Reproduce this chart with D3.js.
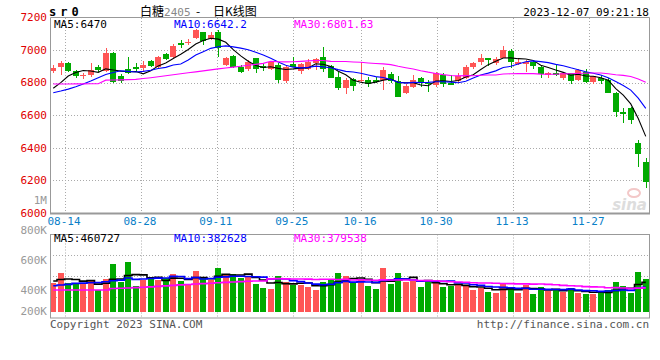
<!DOCTYPE html>
<html>
<head>
<meta charset="UTF-8">
<title>sr0 日K线图</title>
<script src="https://cdn.jsdelivr.net/npm/d3@7"></script>
<style>
  body { margin: 0; background: #fff; }
  text { font-family: "DejaVu Sans Mono", "Liberation Mono", monospace; font-size: 10px; }
</style>
</head>
<body>
<svg id="chart" width="660" height="360"></svg>
<script>
// daily bars, 2023-08-10 .. 2023-12-07 (80 trading days)
var opens  = [6873,6898,6918,6873,6840,6847,6898,6873,6980,6840, 6881,6898,6891,6933,6898,6974,6955,7040,7041,7072,
              7113,7067,7113,6908,6963,6898,6881,6949,6902,6881, 6908,6812,6912,6873,6881,6918,6959,6902,6836,6765,
              6820,6812,6816,6815,6816,6853,6810,6734,6775,6830, 6800,6785,6847,6796,6812,6830,6894,6924,6949,6918,
              6953,6994,6912,6914,6928,6898,6847,6857,6826,6857, 6816,6867,6806,6826,6816,6738,6622,6646,6428,6313];
var highs  = [6908,6934,6928,6880,6860,6918,6905,7010,6985,6850, 6959,6918,6930,6940,6963,6980,7035,7061,7068,7128,
              7113,7113,7123,6960,6970,6905,6940,6949,6918,6935, 6920,6900,6959,6918,6945,6949,7020,6908,6865,6826,
              6826,6924,6836,6836,6898,6867,6840,6790,6845,6836, 6816,6862,6857,6847,6857,6908,6928,6975,6949,6959,
              7026,7006,6949,6938,6938,6908,6867,6908,6867,6860, 6884,6884,6840,6847,6826,6745,6642,6653,6448,6339];
var lows   = [6857,6847,6865,6828,6825,6836,6865,6865,6795,6795, 6850,6865,6873,6898,6891,6940,6950,7010,7028,7066,
              7030,7061,6959,6900,6890,6860,6870,6857,6873,6875, 6800,6800,6894,6850,6877,6877,6866,6826,6755,6730,
              6750,6806,6775,6800,6755,6800,6714,6730,6765,6775, 6745,6775,6771,6785,6800,6820,6884,6910,6900,6910,
              6949,6888,6908,6867,6884,6830,6830,6840,6816,6790, 6812,6796,6790,6790,6737,6587,6550,6546,6282,6151];
var closes = [6891,6918,6873,6840,6848,6877,6877,6980,6806,6812, 6857,6885,6908,6904,6959,6945,7025,7037,7051,7123,
              7057,7092,7010,6953,6898,6867,6928,6881,6888,6924, 6816,6894,6898,6912,6928,6943,6881,6830,6769,6816,
              6779,6816,6792,6812,6877,6812,6714,6779,6816,6806, 6790,6857,6789,6790,6840,6898,6922,6953,6938,6943,
              7000,6925,6928,6928,6900,6852,6857,6848,6857,6812, 6880,6805,6840,6810,6737,6620,6610,6570,6360,6190];
// volume in thousands of lots
var volumes = [451,605,442,442,434,492,338,508,738,457, 765,405,492,518,492,518,585,482,426,635,
               518,492,682,569,585,518,558,431,374,354, 558,466,415,415,380,338,466,508,605,558,
               442,508,400,354,682,431,605,466,477,389, 477,442,389,400,415,400,338,365,312,297,
               426,380,297,415,277,389,323,338,303,374, 297,272,272,323,338,457,400,297,620,508];

// moving-average values before a full window exists
var ma5Head  = [6765,6800,6840,6862];
var ma10Head = [6738,6748,6760,6775,6792,6810,6830,6850,6862];
var ma30Head = [6791,6791,6791,6792,6792,6793,6793,6815,6816,6817,6818,6820,6825,6830,6836,
                6842,6848,6854,6860,6866,6872,6878,6884,6890,6895,6900,6906,6912,6918];
var volMa5Head  = [477,500,508,500];
var volMa10Head = [405,415,425,440,445,450,455,465,480];
var volMa30Head = [338,338,338,338,338,338,338,338,362,366,370,375,380,387,395,
                   402,410,417,424,431,437,443,450,456,462,468,474,477,478];

var tickIndex  = [2,12,22,32,41,51,61,71];
var tickLabels = ["08-14","08-28","09-11","09-25","10-16","10-30","11-13","11-27"];
var priceTicks = [7200,7000,6800,6600,6400,6200,6000];
var volTicks   = [1000,800,600,400,200];
var volTickLabels = ["1M","800K","600K","400K","200K"];
var priceLegend = ["MA5:6470","MA10:6642.2","MA30:6801.63"];
var volLegend   = ["MA5:460727","MA10:382628","MA30:379538"];
var maColors = ["#000000","#0000ff","#ff00ff"];

var RED = "#ff5555", GREEN = "#00aa00", GRID = "#aaaaaa", FRAME = "#999999";

var svg = d3.select("#chart");
var L = 50, R = 649;

var x = d3.scaleBand().domain(d3.range(closes.length)).range([49.5, 649.5])
  .paddingInner(0.2).paddingOuter(0.1);
var bw = x.bandwidth();
var xGrid = d3.scaleLinear().domain([2, 71]).range([65, 589]);
var yP = d3.scaleLinear().domain([6000, 7200]).range([213, 17.4]);
var yV = d3.scaleLinear().domain([0, 1000]).range([312, 247]);
var yVolLabel = d3.scaleLinear().domain([1000, 200]).range([200, 320]);
var volTop = 234.5, volBot = 318;
var yVGrid = d3.scaleLinear().domain([0, 4]).range([volBot, volTop]);

function movAvg(arr, n, head) {
  return arr.map(function(d, i) {
    if (i < n - 1) return head[i];
    return d3.mean(arr.slice(i - n + 1, i + 1));
  });
}

// ---------- header ----------
svg.append("text").attr("x", 49).attr("y", 16).attr("font-weight", "bold")
  .style("font-size", "12px").attr("letter-spacing", "4px").text("sr0");
var title = svg.append("text").attr("y", 16)
  .style("font-family", "'Noto Sans CJK SC', sans-serif").style("font-size", "12px");
title.append("tspan").attr("x", 140).text("白糖");
title.append("tspan").attr("fill", "#888").style("font-family", "'DejaVu Sans Mono', monospace")
  .style("font-size", "11px").text("2405");
title.append("tspan").attr("x", 196).text("-");
title.append("tspan").attr("x", 213).text("日K线图");
svg.append("text").attr("x", R).attr("y", 16).attr("text-anchor", "end")
  .style("font-size", "11px").text("2023-12-07 09:21:18");

// ---------- price panel grid ----------
var g = svg.append("g");
g.selectAll(".hg").data(priceTicks.slice(1, -1)).enter().append("line")
  .attr("x1", L).attr("x2", R)
  .attr("y1", function(d){ return Math.round(yP(d)) + 0.5; })
  .attr("y2", function(d){ return Math.round(yP(d)) + 0.5; })
  .attr("stroke", GRID).attr("stroke-dasharray", "1,2");
g.selectAll(".vg").data(tickIndex).enter().append("line")
  .attr("x1", function(d){ return Math.round(xGrid(d)) + 0.5; })
  .attr("x2", function(d){ return Math.round(xGrid(d)) + 0.5; })
  .attr("y1", 18).attr("y2", 213)
  .attr("stroke", GRID).attr("stroke-dasharray", "1,2");

// price labels
g.selectAll(".pl").data(priceTicks).enter().append("text")
  .attr("x", 47).attr("y", function(d){ return yP(d); }).attr("dy", "0.35em")
  .attr("text-anchor", "end").attr("fill", "#e00000").style("font-size", "11px")
  .text(function(d){ return d; });

// date labels
g.selectAll(".dl").data(tickIndex).enter().append("text")
  .attr("x", function(d){ return xGrid(d) - 1; }).attr("y", 225)
  .attr("text-anchor", "middle").attr("fill", "#0a80c8").style("font-size", "11px")
  .text(function(d, i){ return tickLabels[i]; });

// watermark
svg.append("text").attr("x", 647).attr("y", 210).attr("text-anchor", "end")
  .attr("fill", "#dddddd").attr("font-weight", "bold").attr("font-style", "italic")
  .style("font-family", "'DejaVu Sans', sans-serif").style("font-size", "15px").text("sina");
svg.append("ellipse").attr("cx", 634).attr("cy", 193).attr("rx", 6).attr("ry", 4)
  .attr("fill", "none").attr("stroke", "#f3c8c8").attr("stroke-width", 2);

// candles
var candles = g.selectAll(".c").data(closes).enter().append("g");
candles.append("line")
  .attr("x1", function(d, i){ return Math.round(x(i) + bw / 2) + 0.5; })
  .attr("x2", function(d, i){ return Math.round(x(i) + bw / 2) + 0.5; })
  .attr("y1", function(d, i){ return yP(highs[i]); })
  .attr("y2", function(d, i){ return yP(lows[i]); })
  .attr("stroke", function(d, i){ return d >= opens[i] ? RED : GREEN; })
  .attr("shape-rendering", "crispEdges");
candles.append("rect")
  .attr("x", function(d, i){ return Math.round(x(i)); })
  .attr("width", Math.round(bw))
  .attr("y", function(d, i){ return yP(Math.max(d, opens[i])); })
  .attr("height", function(d, i){ return Math.max(1.5, yP(Math.min(d, opens[i])) - yP(Math.max(d, opens[i]))); })
  .attr("fill", function(d, i){ return d >= opens[i] ? RED : GREEN; })
  .attr("shape-rendering", "crispEdges");

// moving averages
var priceMAs = [movAvg(closes, 5, ma5Head), movAvg(closes, 10, ma10Head), movAvg(closes, 30, ma30Head)];
var pLine = d3.line().x(function(d, i){ return x(i) + bw / 2; }).y(function(d){ return yP(d); });
g.selectAll(".ma").data(priceMAs).enter().append("path")
  .attr("d", pLine).attr("fill", "none")
  .attr("stroke", function(d, i){ return maColors[i]; }).attr("stroke-width", 1.1);

// frame
g.append("path").attr("d", "M" + (L + 0.5) + ",213 V17.5 H" + (R + 0.5) + " V213")
  .attr("fill", "none").attr("stroke", FRAME);
g.append("line").attr("x1", L).attr("x2", R + 1).attr("y1", 213.5).attr("y2", 213.5)
  .attr("stroke", FRAME).attr("stroke-width", 2);

// legends
var legX = [54, 174, 294];
g.selectAll(".lg").data(priceLegend).enter().append("text")
  .attr("x", function(d, i){ return legX[i]; }).attr("y", 28)
  .attr("fill", function(d, i){ return maColors[i]; }).style("font-size", "11px")
  .text(function(d){ return d; });

// ---------- volume panel ----------
var v = svg.append("g");
v.selectAll(".vhg").data([1, 2, 3]).enter().append("line")
  .attr("x1", L).attr("x2", R)
  .attr("y1", function(d){ return Math.round(yVGrid(d)) + 0.5; })
  .attr("y2", function(d){ return Math.round(yVGrid(d)) + 0.5; })
  .attr("stroke", GRID).attr("stroke-dasharray", "1,2");
v.selectAll(".vvg").data(tickIndex).enter().append("line")
  .attr("x1", function(d){ return Math.round(xGrid(d)) + 0.5; })
  .attr("x2", function(d){ return Math.round(xGrid(d)) + 0.5; })
  .attr("y1", volTop).attr("y2", volBot)
  .attr("stroke", GRID).attr("stroke-dasharray", "1,2");

v.selectAll(".vl").data(volTicks).enter().append("text")
  .attr("x", 47).attr("y", function(d){ return Math.min(311, yVolLabel(d)); }).attr("dy", "0.35em")
  .attr("text-anchor", "end").attr("fill", "#999").style("font-size", "11px")
  .text(function(d, i){ return volTickLabels[i]; });

v.selectAll(".vb").data(volumes).enter().append("rect")
  .attr("x", function(d, i){ return Math.round(x(i)); })
  .attr("width", Math.round(bw))
  .attr("y", function(d){ return yV(d); })
  .attr("height", function(d){ return yV(0) - yV(d); })
  .attr("fill", function(d, i){ return closes[i] >= opens[i] ? RED : GREEN; })
  .attr("shape-rendering", "crispEdges");

var volMAs = [movAvg(volumes, 5, volMa5Head), movAvg(volumes, 10, volMa10Head), movAvg(volumes, 30, volMa30Head)];
var vLine = d3.line().curve(d3.curveStep)
  .x(function(d, i){ return x(i) + bw / 2; }).y(function(d){ return yV(d); });
v.selectAll(".vma").data(volMAs).enter().append("path")
  .attr("d", vLine).attr("fill", "none")
  .attr("stroke", function(d, i){ return maColors[i]; }).attr("stroke-width", 1.6);

v.append("rect").attr("x", L + 0.5).attr("y", volTop).attr("width", R - L).attr("height", volBot - volTop)
  .attr("fill", "none").attr("stroke", FRAME);
v.selectAll(".vlg").data(volLegend).enter().append("text")
  .attr("x", function(d, i){ return legX[i]; }).attr("y", 242)
  .attr("fill", function(d, i){ return maColors[i]; }).style("font-size", "11px")
  .text(function(d){ return d; });

// footer
svg.append("text").attr("x", 50).attr("y", 328).attr("fill", "#555").style("font-size", "11px")
  .text("Copyright 2023 SINA.COM");
svg.append("text").attr("x", R).attr("y", 328).attr("text-anchor", "end").attr("fill", "#555")
  .style("font-size", "11px").text("http://finance.sina.com.cn");
</script>
</body>
</html>
